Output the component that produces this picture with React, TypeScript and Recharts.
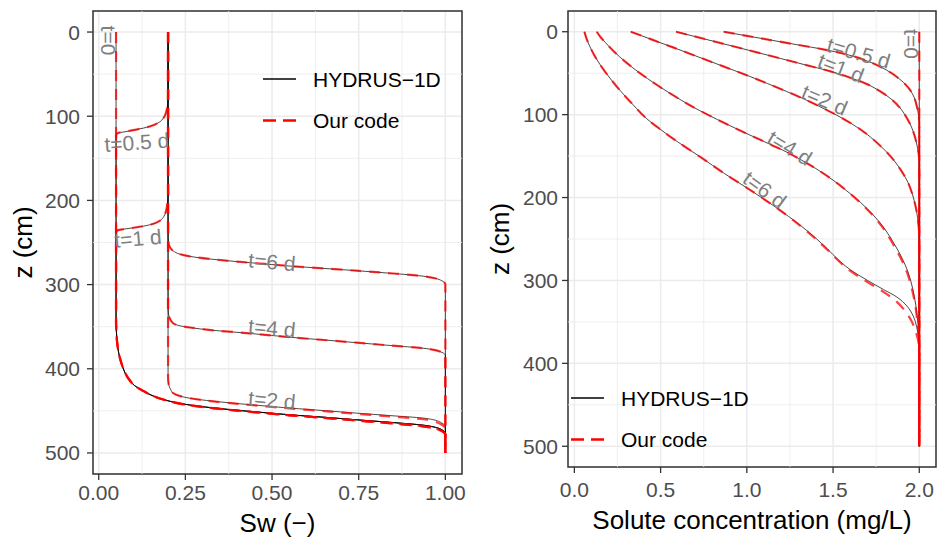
import React from 'react';
import {
  LineChart,
  Line,
  XAxis,
  YAxis,
  CartesianGrid,
  ReferenceLine,
  ReferenceArea,
  ReferenceDot,
  Legend,
} from 'recharts';

const FONT = "'Liberation Sans', Arial, Helvetica, sans-serif";

// depth axis (shared)
const zDomain = [-25, 525];
const zTicks = [0, 100, 200, 300, 400, 500];
const zMinor = [50, 150, 250, 350, 450];

// water saturation axis
const swDomain = [-0.0165, 1.048];
const swTicks = [0, 0.25, 0.5, 0.75, 1];
const swMinor = [0.125, 0.375, 0.625, 0.875];

// concentration axis
const concDomain = [-0.037, 2.097];
const concTicks = [0, 0.5, 1, 1.5, 2];
const concMinor = [0.25, 0.75, 1.25, 1.75];

const legendNames = ['HYDRUS−1D', 'Our code'];

// ---- Sw profiles, [Sw, z] ----
// initial profile below the wetting fronts (water table at the bottom)
const swInitBottom = [
  [0.05, 345], [0.051, 356], [0.053, 368], [0.058, 382], [0.066, 394],
  [0.075, 404], [0.09, 414], [0.105, 420.5], [0.125, 425.5], [0.15, 431],
  [0.186, 436.5], [0.254, 442.5], [0.33, 446.5], [0.408, 449.6], [0.48, 452.2],
  [0.552, 454.7], [0.65, 457.6], [0.744, 460.6], [0.84, 463.6], [0.936, 467],
  [0.975, 470], [0.994, 473.5], [1.0, 477], [1.0, 500],
];
const swInitBottomOurs = [
  [0.05, 345], [0.051, 356], [0.053, 368], [0.058, 382], [0.066, 394],
  [0.075, 404], [0.09, 414], [0.105, 420.5], [0.125, 425.5], [0.15, 431],
  [0.186, 436.5], [0.254, 442.8], [0.33, 446.8], [0.408, 450], [0.48, 452.7],
  [0.552, 455.3], [0.65, 458.3], [0.744, 461.4], [0.84, 464.6], [0.936, 468.4],
  [0.975, 471.5], [0.994, 475], [1.0, 478], [1.0, 500],
];
const swT0Top = [[0.05, 0]];
const swT05Top = [
  [0.2, 0], [0.2, 75], [0.198, 88], [0.194, 96], [0.187, 102], [0.175, 107],
  [0.155, 111], [0.13, 114], [0.1, 116.5], [0.075, 118.5], [0.055, 120], [0.05, 123],
];
const swT1Top = [
  [0.2, 0], [0.2, 192], [0.198, 204], [0.194, 213], [0.188, 219], [0.177, 224],
  [0.16, 227.5], [0.13, 230.5], [0.1, 232.5], [0.075, 234], [0.055, 235.5], [0.05, 238],
];
const swT2 = [
  [0.2, 0], [0.2, 410], [0.202, 419], [0.208, 425], [0.215, 429], [0.235, 432.5],
  [0.263, 435], [0.33, 438.5], [0.408, 441.6], [0.48, 444.2], [0.552, 446.7],
  [0.65, 449.7], [0.744, 452.7], [0.84, 455.6], [0.936, 458.6], [0.97, 461],
  [0.99, 464.5], [1.0, 468.6], [1.0, 500],
];
const swT2Ours = [
  [0.2, 0], [0.2, 410], [0.202, 419], [0.208, 425], [0.215, 429], [0.235, 432.5],
  [0.263, 435], [0.33, 438.7], [0.408, 441.9], [0.48, 444.6], [0.552, 447.2],
  [0.65, 450.3], [0.744, 453.5], [0.84, 456.6], [0.936, 460], [0.97, 463],
  [0.99, 466.5], [1.0, 471], [1.0, 500],
];
const swT4 = [
  [0.2, 0], [0.2, 328], [0.201, 334], [0.205, 340], [0.215, 346], [0.235, 349],
  [0.263, 351], [0.33, 354.3], [0.408, 357], [0.48, 359.7], [0.552, 362.5],
  [0.65, 365.8], [0.744, 369], [0.84, 372.3], [0.936, 375.6], [0.97, 377.8],
  [0.99, 380.5], [1.0, 384], [1.0, 500],
];
const swT6 = [
  [0.2, 0], [0.2, 244], [0.201, 250], [0.206, 256], [0.215, 260], [0.235, 264],
  [0.263, 266.5], [0.33, 270], [0.408, 273], [0.48, 275.5], [0.552, 278],
  [0.65, 280.8], [0.744, 283.5], [0.84, 286.5], [0.936, 290], [0.97, 292.5],
  [0.99, 295.5], [1.0, 300], [1.0, 500],
];

// ---- solute concentration profiles, [C, z] ----
const concT0 = [[2, 0], [2, 500]];
const concT05 = [
  [0.866, 0], [1.0, 5], [1.15, 10.5], [1.3, 16], [1.45, 21.5], [1.59, 28],
  [1.7, 35.5], [1.79, 44], [1.86, 53], [1.91, 61.5], [1.946, 70], [1.97, 79],
  [1.986, 90], [1.996, 101], [2, 110], [2, 500],
];
const concT1 = [
  [0.59, 0], [0.75, 8.5], [0.92, 17.5], [1.07, 25.5], [1.2, 32.5], [1.34, 40],
  [1.48, 47.5], [1.6, 55.5], [1.7, 63.5], [1.77, 71.5], [1.83, 80], [1.885, 91],
  [1.925, 103], [1.955, 115], [1.975, 127], [1.988, 138], [1.997, 148], [2, 156], [2, 500],
];
const concT2 = [
  [0.327, 0], [0.45, 9.5], [0.58, 19.5], [0.72, 30.5], [0.86, 41.5], [1.0, 52.5],
  [1.12, 62.5], [1.23, 72], [1.33, 81], [1.43, 91], [1.52, 100.5], [1.6, 110],
  [1.68, 121], [1.75, 133], [1.81, 145], [1.86, 157], [1.9, 169], [1.935, 182],
  [1.96, 196], [1.978, 210], [1.99, 224], [1.997, 236], [2, 246], [2, 500],
];
const concT4 = [
  [0.13, 0], [0.15, 6], [0.18, 13], [0.23, 24], [0.3, 37], [0.38, 50], [0.47, 63],
  [0.56, 75], [0.69, 91], [0.83, 106], [0.97, 120], [1.1, 132.5], [1.21, 143],
  [1.31, 154], [1.4, 165], [1.5, 179], [1.58, 192], [1.66, 206], [1.733, 221],
  [1.8, 238], [1.855, 256], [1.9, 273], [1.935, 290], [1.962, 310], [1.98, 330],
  [1.992, 352], [2, 375], [2, 500],
];
const concT4Ours = [
  [0.13, 0], [0.15, 6], [0.18, 13], [0.23, 24], [0.3, 37], [0.38, 50], [0.47, 63],
  [0.56, 75], [0.69, 91], [0.83, 106], [0.97, 120], [1.1, 132.5], [1.21, 143],
  [1.31, 154], [1.4, 165], [1.5, 179], [1.58, 192], [1.66, 206.5], [1.733, 222],
  [1.8, 239.5], [1.85, 257], [1.895, 274], [1.93, 291], [1.957, 310], [1.977, 330],
  [1.99, 352], [2, 373], [2, 500],
];
const concT6 = [
  [0.058, 0], [0.07, 8], [0.09, 18], [0.12, 30], [0.16, 43], [0.21, 57], [0.27, 72],
  [0.34, 88], [0.42, 105], [0.5, 118], [0.6, 133], [0.73, 151], [0.87, 171],
  [1.02, 191], [1.17, 212], [1.313, 234], [1.4, 249], [1.467, 262], [1.53, 275],
  [1.6, 287], [1.7, 300], [1.793, 311], [1.87, 320], [1.929, 331], [1.965, 343],
  [1.985, 356], [1.995, 368], [2, 380], [2, 500],
];
const concT6Ours = [
  [0.058, 0], [0.07, 8], [0.09, 18], [0.12, 30], [0.16, 43], [0.21, 57], [0.27, 72],
  [0.34, 88], [0.42, 105], [0.5, 118], [0.6, 133], [0.73, 151], [0.87, 171],
  [1.02, 191], [1.17, 212], [1.313, 234.5], [1.4, 250], [1.467, 263], [1.53, 276],
  [1.6, 288.5], [1.7, 302], [1.79, 313.5], [1.86, 324], [1.915, 336], [1.955, 349],
  [1.98, 362], [1.995, 374], [2, 382], [2, 500],
];

// curve labels, data coordinates
const swLabelText = ['t=0', 't=0.5 d', 't=1 d', 't=6 d', 't=4 d', 't=2 d'];
const swLabelSw = [0.027, 0.11, 0.113, 0.5, 0.5, 0.5];
const swLabelZ = [10, 131, 245, 273, 351.5, 437];
const concLabelText = ['t=0', 't=0.5 d', 't=1 d', 't=2 d', 't=4 d', 't=6 d'];
const concLabelC = [1.952, 1.649, 1.546, 1.452, 1.25, 1.104];
const concLabelZ = [14.8, 25.6, 43.7, 82.2, 140, 190.5];

const swLabelAngle = [90, -4, -5, 5, 5, 5];
const concLabelAngle = [90, 16, 21, 23, 31, 36];

type Pt = { x: number; z: number };
const toPts = (rows: number[][]): Pt[] => rows.map(([x, z]) => ({ x, z }));

const swHydrus = [
  [...swT0Top, ...swInitBottom],
  [...swT05Top, ...swInitBottom],
  [...swT1Top, ...swInitBottom],
  swT2,
  swT4,
  swT6,
];
const swOurs = [
  [...swT0Top, ...swInitBottomOurs],
  [...swT05Top, ...swInitBottomOurs],
  [...swT1Top, ...swInitBottomOurs],
  swT2Ours,
  swT4,
  swT6,
];
const concHydrus = [concT0, concT05, concT1, concT2, concT4, concT6];
const concOurs = [concT0, concT05, concT1, concT2, concT4Ours, concT6Ours];

const tickStyle = { fill: '#4D4D4D', fontSize: 21, fontFamily: FONT };
const titleStyle = { fill: '#000', fontSize: 26, fontFamily: FONT, textAnchor: 'middle' as const };

function KeyBox() {
  return (
    <svg width={230} height={84} style={{ display: 'block' }}>
      <line x1={8} y1={19} x2={41} y2={19} stroke="#000" strokeWidth={1.3} />
      <text x={58} y={19} dominantBaseline="central" fontSize={21} fontFamily={FONT} fill="#000">
        {legendNames[0]}
      </text>
      <line x1={8} y1={60.5} x2={41} y2={60.5} stroke="#FF0000" strokeWidth={2.4} strokeDasharray="13 7" />
      <text x={58} y={60.5} dominantBaseline="central" fontSize={21} fontFamily={FONT} fill="#000">
        {legendNames[1]}
      </text>
    </svg>
  );
}

interface PanelProps {
  hydrus: number[][][];
  ours: number[][][];
  xDomain: number[];
  xTicks: number[];
  xMinor: number[];
  xDigits: number;
  xTitle: string;
  labelText: string[];
  labelX: number[];
  labelZ: number[];
  labelAngle: number[];
  legendLeft: number;
  legendTop: number;
  marginRight: number;
  yAxisWidth: number;
  xAxisHeight: number;
  yTickMargin: number;
  xTickMargin: number;
  yTitleOffset: number;
  xTitleOffset: number;
}

function ProfilePanel(p: PanelProps) {
  return (
    <LineChart
      width={470}
      height={540}
      margin={{ top: 11, right: p.marginRight, bottom: 0, left: 0 }}
    >
      <CartesianGrid stroke="#EBEBEB" strokeWidth={1.5} />
      {p.xMinor.map((v) => (
        <ReferenceLine key={`mx${v}`} x={v} stroke="#EBEBEB" strokeWidth={0.8} />
      ))}
      {zMinor.map((v) => (
        <ReferenceLine key={`mz${v}`} y={v} stroke="#EBEBEB" strokeWidth={0.8} />
      ))}
      <XAxis
        type="number"
        dataKey="x"
        domain={p.xDomain}
        ticks={p.xTicks}
        allowDataOverflow
        height={p.xAxisHeight}
        tickFormatter={(v: number) => v.toFixed(p.xDigits)}
        tick={tickStyle}
        tickSize={6}
        tickMargin={p.xTickMargin}
        tickLine={{ stroke: '#333333', strokeWidth: 1.3 }}
        axisLine={false}
        label={{ value: p.xTitle, position: 'insideBottom', offset: p.xTitleOffset, style: titleStyle }}
      />
      <YAxis
        type="number"
        reversed
        domain={zDomain}
        ticks={zTicks}
        allowDataOverflow
        width={p.yAxisWidth}
        tick={tickStyle}
        tickSize={6}
        tickMargin={p.yTickMargin}
        tickLine={{ stroke: '#333333', strokeWidth: 1.3 }}
        axisLine={false}
        label={{
          value: 'z (cm)',
          angle: -90,
          position: 'insideLeft',
          offset: p.yTitleOffset,
          style: titleStyle,
        }}
      />
      {p.hydrus.map((rows, i) => (
        <Line
          key={`h${i}`}
          data={toPts(rows)}
          dataKey="z"
          type="monotoneY"
          stroke="#000"
          strokeWidth={0.9}
          strokeOpacity={0.8}
          dot={false}
          activeDot={false}
          legendType="none"
          isAnimationActive={false}
        />
      ))}
      {p.ours.map((rows, i) => (
        <Line
          key={`o${i}`}
          data={toPts(rows)}
          dataKey="z"
          type="monotoneY"
          stroke="#FF0000"
          strokeWidth={2.2}
          strokeOpacity={0.75}
          strokeDasharray="11 8"
          dot={false}
          activeDot={false}
          legendType="none"
          isAnimationActive={false}
        />
      ))}
      <ReferenceArea
        x1={p.xDomain[0]}
        x2={p.xDomain[1]}
        y1={zDomain[0]}
        y2={zDomain[1]}
        fill="none"
        stroke="#333333"
        strokeWidth={1.5}
        ifOverflow="visible"
      />
      {p.labelText.map((t, i) => (
        <ReferenceDot
          key={`l${i}`}
          x={p.labelX[i]}
          y={p.labelZ[i]}
          r={0}
          ifOverflow="visible"
          shape={(s: any) => (
            <text
              x={s.cx}
              y={s.cy}
              transform={`rotate(${p.labelAngle[i]} ${s.cx} ${s.cy})`}
              textAnchor="middle"
              dominantBaseline="central"
              fill="#7F7F7F"
              fontSize={21}
              fontFamily={FONT}
            >
              {t}
            </text>
          )}
        />
      ))}
      <Legend
        layout="horizontal"
        verticalAlign="middle"
        align="center"
        wrapperStyle={{ left: p.legendLeft, top: p.legendTop, width: 230, height: 84 }}
        content={() => <KeyBox />}
      />
    </LineChart>
  );
}

export default function App() {
  return (
    <div
      style={{
        position: 'absolute',
        left: 0,
        top: 0,
        width: 940,
        height: 540,
        display: 'flex',
        background: '#fff',
      }}
    >
      <ProfilePanel
        hydrus={swHydrus}
        ours={swOurs}
        xDomain={swDomain}
        xTicks={swTicks}
        xMinor={swMinor}
        xDigits={2}
        xTitle="Sw (−)"
        labelText={swLabelText}
        labelX={swLabelSw}
        labelZ={swLabelZ}
        labelAngle={swLabelAngle}
        legendLeft={255}
        legendTop={60}
        marginRight={8}
        yAxisWidth={93}
        xAxisHeight={66}
        yTickMargin={7}
        xTickMargin={5}
        yTitleOffset={23}
        xTitleOffset={8}
      />
      <ProfilePanel
        hydrus={concHydrus}
        ours={concOurs}
        xDomain={concDomain}
        xTicks={concTicks}
        xMinor={concMinor}
        xDigits={1}
        xTitle="Solute concentration (mg/L)"
        labelText={concLabelText}
        labelX={concLabelC}
        labelZ={concLabelZ}
        labelAngle={concLabelAngle}
        legendLeft={93}
        legendTop={379}
        marginRight={4}
        yAxisWidth={98}
        xAxisHeight={73}
        yTickMargin={4}
        xTickMargin={9}
        yTitleOffset={30}
        xTitleOffset={11}
      />
    </div>
  );
}
